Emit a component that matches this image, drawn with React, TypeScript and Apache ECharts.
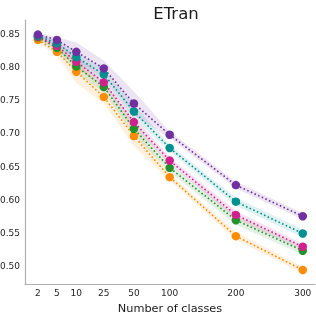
import React, { useEffect, useRef } from "react";
import * as echarts from "echarts";

// class counts and their positions along the (non-uniform) x scale
const classes = [2, 5, 10, 25, 50, 100, 200, 300];
const classPositions = [0, 0.575, 1.16, 1.99, 2.9, 3.98, 5.98, 8.0];
const yTicks = [0.5, 0.55, 0.6, 0.65, 0.7, 0.75, 0.8, 0.85];

const purple = [0.849, 0.841, 0.823, 0.798, 0.745, 0.698, 0.622, 0.575];
const teal = [0.847, 0.836, 0.815, 0.789, 0.733, 0.678, 0.597, 0.549];
const magenta = [0.846, 0.832, 0.808, 0.777, 0.717, 0.659, 0.577, 0.529];
const green = [0.845, 0.829, 0.801, 0.770, 0.707, 0.648, 0.569, 0.523];
const orange = [0.841, 0.823, 0.793, 0.755, 0.696, 0.634, 0.545, 0.494];

const purpleSd = [0.003, 0.004, 0.014, 0.012, 0.018, 0.005, 0.005, 0.005];
const tealSd = [0.003, 0.004, 0.008, 0.008, 0.010, 0.005, 0.006, 0.006];
const magentaSd = [0.003, 0.005, 0.008, 0.008, 0.009, 0.005, 0.006, 0.005];
const greenSd = [0.003, 0.005, 0.010, 0.008, 0.010, 0.006, 0.007, 0.006];
const orangeSd = [0.003, 0.006, 0.017, 0.010, 0.015, 0.005, 0.006, 0.005];

const groups = [
  { name: "orange", values: orange, sd: orangeSd, color: "#ff8c00" },
  { name: "green", values: green, sd: greenSd, color: "#22922a" },
  { name: "magenta", values: magenta, sd: magentaSd, color: "#d0218e" },
  { name: "teal", values: teal, sd: tealSd, color: "#00908f" },
  { name: "purple", values: purple, sd: purpleSd, color: "#7030a0" },
];

const FONT = "DejaVu Sans";

export default function App() {
  const ref = useRef<HTMLDivElement>(null);
  useEffect(() => {
    if (!ref.current) return;
    const chart = echarts.init(ref.current, null, { renderer: "svg" });
    const series: any[] = [];
    groups.forEach((g) => {
      series.push({
        type: "custom",
        name: g.name + "-band",
        silent: true,
        z: 1,
        data: classPositions.map((x, i) => [x, g.values[i]]),
        renderItem: (params: any, api: any) => {
          if (params.dataIndex !== 0) return null;
          const pts: number[][] = [];
          for (let i = 0; i < classPositions.length; i++) {
            pts.push(api.coord([classPositions[i], g.values[i] + g.sd[i]]));
          }
          for (let i = classPositions.length - 1; i >= 0; i--) {
            pts.push(api.coord([classPositions[i], g.values[i] - g.sd[i]]));
          }
          return {
            type: "polygon",
            shape: { points: pts },
            style: { fill: g.color, opacity: 0.13 },
          };
        },
      });
    });
    groups.forEach((g) => {
      series.push({
        type: "line",
        name: g.name,
        z: 3,
        data: classPositions.map((x, i) => [x, g.values[i]]),
        symbol: "circle",
        symbolSize: 8.5,
        showSymbol: true,
        itemStyle: { color: g.color },
        lineStyle: { color: g.color, width: 1.6, type: [1.6, 2.4] },
      });
    });
    chart.setOption({
      animation: false,
      title: {
        text: "ETran",
        left: 171,
        top: 0,
        textAlign: "center",
        textStyle: { fontFamily: FONT, fontSize: 16.5, fontWeight: "normal", color: "#1a1a1a" },
      },
      grid: { left: 25, right: 1, top: 20, bottom: 30, containLabel: false, outerBoundsMode: "none" },
      xAxis: {
        type: "value",
        min: -0.39,
        max: 8.37,
        name: "Number of classes",
        nameLocation: "middle",
        nameGap: 15,
        nameTextStyle: { fontFamily: FONT, fontSize: 11.3, color: "#1a1a1a", lineHeight: 13 },
        axisLine: { show: true, onZero: false, lineStyle: { color: "#b0b0b0", width: 1.2 } },
        axisTick: { show: false },
        splitLine: { show: false },
        axisLabel: {
          customValues: classPositions,
          margin: 4,
          fontFamily: FONT,
          fontSize: 9,
          color: "#262626",
          formatter: (v: number) => {
            const idx = classPositions.findIndex((p) => Math.abs(p - v) < 1e-6);
            return idx >= 0 ? String(classes[idx]) : "";
          },
        },
      },
      yAxis: {
        type: "value",
        min: 0.4728,
        max: 0.871,
        axisLine: { show: true, onZero: false, lineStyle: { color: "#b0b0b0", width: 1.2 } },
        axisTick: { show: false },
        splitLine: { show: false },
        axisLabel: {
          customValues: yTicks,
          margin: 5,
          fontFamily: FONT,
          fontSize: 9,
          color: "#262626",
          formatter: (v: number) => v.toFixed(2),
        },
      },
      series,
    });
    return () => chart.dispose();
  }, []);
  return (
    <div
      ref={ref}
      style={{ position: "fixed", left: 0, top: 0, width: 316, height: 314 }}
    />
  );
}
